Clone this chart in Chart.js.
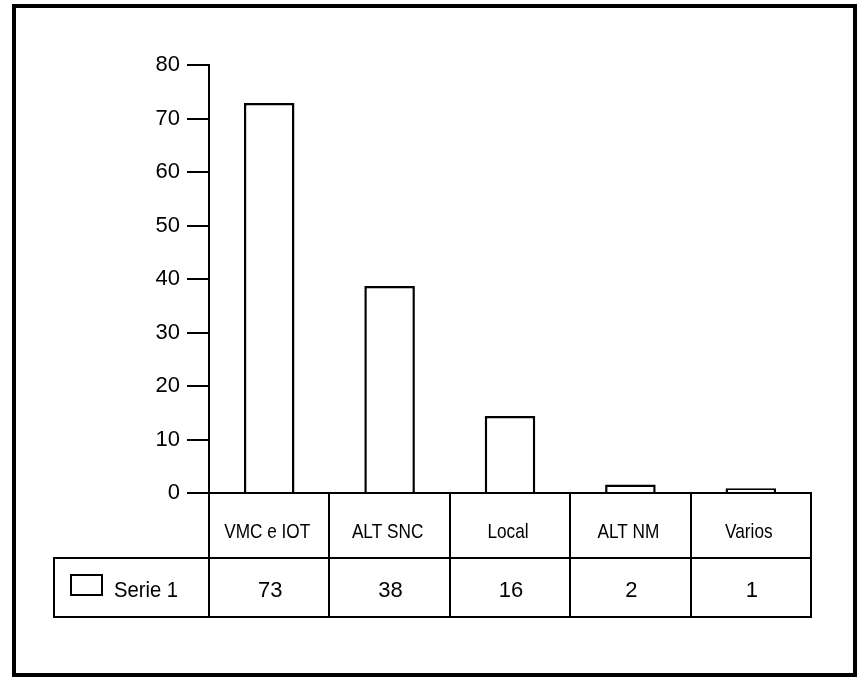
<!DOCTYPE html>
<html>
<head>
<meta charset="utf-8">
<script src="https://cdn.jsdelivr.net/npm/chart.js@4/dist/chart.umd.min.js"></script>
<style>
html,body{margin:0;padding:0;background:#fff;}
#wrap{width:864px;height:683px;position:relative;}
</style>
</head>
<body>
<div id="wrap"><canvas id="c" width="864" height="683"></canvas></div>
<script>
const categories = ["VMC e IOT", "ALT SNC", "Local", "ALT NM", "Varios"];
const seriesName = "Serie 1";
const barValues = [72.9, 38.7, 14.4, 1.6, 0.9];
const tableValues = ["73", "38", "16", "2", "1"];
const yTicks = [0, 10, 20, 30, 40, 50, 60, 70, 80];

const FONT = '"Liberation Sans", Arial, sans-serif';

function drawText(ctx, text, x, y, sx, align) {
  ctx.save();
  ctx.translate(x, y);
  ctx.scale(sx, 1);
  ctx.textAlign = align;
  ctx.fillText(text, 0, 0);
  ctx.restore();
}

const tablePlugin = {
  id: 'tablePlugin',
  afterDraw(chart) {
    const ctx = chart.ctx;
    const x = chart.scales.x;
    const area = chart.chartArea;
    const n = categories.length;
    const step = (area.right - area.left) / n;
    const top = area.bottom;
    const mid = 558;
    const bot = 617;
    const legLeft = 54;
    ctx.save();
    ctx.strokeStyle = '#000';
    ctx.lineWidth = 2;
    ctx.beginPath();
    ctx.moveTo(legLeft - 1, mid); ctx.lineTo(area.right + 1, mid);
    ctx.moveTo(legLeft - 1, bot); ctx.lineTo(area.right + 1, bot);
    ctx.moveTo(legLeft, mid); ctx.lineTo(legLeft, bot);
    for (let i = 0; i <= n; i++) {
      const xx = Math.round(area.left + i * step);
      ctx.moveTo(xx, top); ctx.lineTo(xx, bot);
    }
    ctx.stroke();
    // legend swatch
    ctx.strokeRect(71, 575, 31, 20);
    ctx.fillStyle = '#000';
    ctx.textBaseline = 'alphabetic';
    ctx.font = '22px ' + FONT;
    drawText(ctx, seriesName, 114, 597, 0.92, 'left');
    ctx.font = '21px ' + FONT;
    for (let i = 0; i < n; i++) {
      const cx = x.getPixelForValue(i);
      drawText(ctx, categories[i], cx - 2, 538, 0.82, 'center');
    }
    ctx.font = '22px ' + FONT;
    for (let i = 0; i < n; i++) {
      const cx = x.getPixelForValue(i);
      drawText(ctx, tableValues[i], cx + 1, 597, 1.0, 'center');
    }
    // outer border
    ctx.lineWidth = 4;
    ctx.strokeRect(14, 6, 841, 669);
    ctx.restore();
  }
};

const bgPlugin = {
  id: 'bg',
  beforeDraw(chart) {
    const ctx = chart.ctx;
    ctx.save();
    ctx.fillStyle = '#fff';
    ctx.fillRect(0, 0, chart.width, chart.height);
    ctx.restore();
  }
};

new Chart(document.getElementById('c'), {
  type: 'bar',
  data: {
    labels: categories,
    datasets: [{
      label: seriesName,
      data: barValues,
      backgroundColor: '#fff',
      borderColor: '#000',
      borderWidth: 2.5,
      barPercentage: 0.42,
      categoryPercentage: 1.0
    }]
  },
  options: {
    responsive: false,
    animation: false,
    devicePixelRatio: 1,
    layout: { padding: { left: 0, right: 53, top: 65, bottom: 0 } },
    plugins: { legend: { display: false }, tooltip: { enabled: false } },
    scales: {
      x: {
        ticks: { display: false },
        grid: { display: false, drawTicks: false },
        border: { display: true, color: '#000', width: 2 },
        afterFit(s) { s.height = 190; }
      },
      y: {
        min: 0, max: 80,
        afterBuildTicks(s) { s.ticks = yTicks.map(v => ({ value: v })); },
        ticks: {
          color: '#000',
          font: { family: FONT, size: 22 },
          padding: 7,
          callback: v => String(v)
        },
        grid: {
          drawOnChartArea: false,
          drawTicks: true,
          tickLength: 22,
          color: '#000',
          lineWidth: 2
        },
        border: { display: true, color: '#000', width: 2 },
        afterFit(s) { s.width = 209; }
      }
    }
  },
  plugins: [bgPlugin, tablePlugin]
});
</script>
</body>
</html>
